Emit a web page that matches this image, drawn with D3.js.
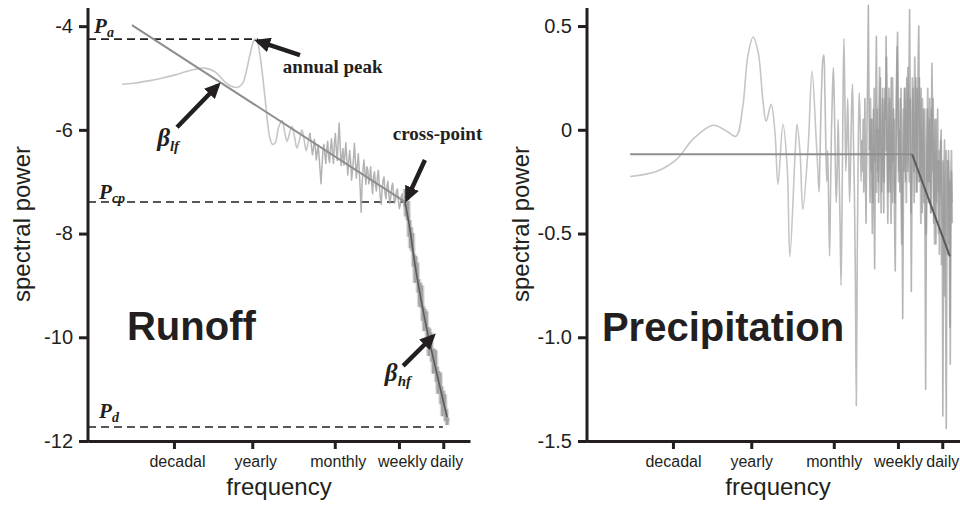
<!DOCTYPE html>
<html><head><meta charset="utf-8">
<script src="https://cdn.jsdelivr.net/npm/d3@7"></script>
<style>
html,body{margin:0;padding:0;background:#fff;}
svg{display:block;}
</style></head>
<body>
<script>
// ---------- DATA ----------
const freqTickPos = [22.5, 43.0, 64.6, 81.4, 93.0];
const freqTickLabels = ["decadal", "yearly", "monthly", "weekly", "daily"];
const runoffTicks = [-12, -10, -8, -6, -4];
const precipTicks = [0.5, 0, -0.5, -1.0, -1.5];
const precipTickLabels = ["0.5", "0", "-0.5", "-1.0", "-1.5"];

// Runoff spectrum, low-frequency smooth part (frequency position, power)
const runoffLowU = [8.9,12,16.2,19.5,22.8,25.5,28.0,30.6,33.2,35.9,37.5,39.3,40.5,41.5,42.4,43.2,43.7,44.3,45.0,45.7,46.3,47.0,47.6,48.3,49.0,49.9,50.8,51.5,52.1,52.8,53.4,54.1,54.7,55.4,56.0,56.6,57.1,57.6,58.1];
const runoffLowP = [-5.12,-5.10,-5.05,-5.00,-4.94,-4.88,-4.83,-4.81,-4.88,-5.08,-5.16,-5.18,-5.10,-4.85,-4.55,-4.32,-4.25,-4.30,-4.55,-4.95,-5.35,-5.85,-6.15,-6.28,-6.25,-5.95,-5.82,-6.05,-6.22,-6.05,-5.93,-6.15,-6.35,-6.18,-6.00,-6.20,-6.40,-6.25,-6.06];
// Runoff spectrum, noisy middle part (starts at 58.25, step 0.25)
const runoffMidStart = 58.25, runoffMidStep = 0.25;
const runoffMidP = [-6.16,-6.32,-6.48,-6.37,-6.18,-6.32,-6.58,-6.44,-6.29,-6.52,
-6.78,-7.04,-6.70,-6.41,-6.28,-6.47,-6.65,-6.36,-6.22,-6.54,
-6.63,-6.34,-6.17,-6.43,-6.65,-6.26,-6.07,-6.38,-6.59,-6.21,
-5.87,-6.28,-6.69,-6.52,-6.36,-6.68,-6.49,-6.25,-6.56,-6.87,
-6.64,-6.40,-6.61,-6.97,-6.78,-6.55,-6.26,-6.62,-6.93,-6.69,
-6.46,-6.77,-7.13,-7.59,-7.05,-6.76,-6.58,-6.84,-7.05,-6.71,
-6.77,-7.04,-6.90,-6.71,-7.02,-7.23,-6.90,-6.81,-7.07,-7.18,
-6.92,-6.78,-7.05,-7.28,-7.44,-7.15,-6.96,-6.91,-7.22,-7.33,
-7.11,-6.99,-7.24,-7.42,-7.31,-7.10,-7.03,-7.25,-7.41,-7.35,
-7.18,-7.14,-7.36,-7.52,-7.45,-7.29,-7.23,-7.38,-7.48,-7.39];
// Runoff spectrum, steep high-frequency part (starts at 83.0, step 0.2)
const runoffHighStart = 83.0, runoffHighStep = 0.2;
const runoffHighP = [-7.14,-7.67,-7.26,-7.74,-7.37,-8.06,-7.74,-8.28,-7.88,-8.34,
-7.99,-8.64,-8.40,-8.95,-8.44,-8.87,-8.56,-9.14,-8.88,-9.41,
-8.95,-9.43,-9.00,-9.68,-9.40,-9.88,-9.45,-9.83,-9.50,-10.13,
-9.80,-10.36,-9.83,-10.29,-9.91,-10.47,-10.24,-10.70,-10.22,-10.68,
-10.25,-10.86,-10.57,-11.09,-10.65,-11.01,-10.68,-11.29,-10.95,-11.52,
-11.03,-11.44,-11.10,-11.62,-11.38,-11.69,-11.55];
// Runoff fitted lines
const runoffFitLowU = [11.5, 83.0];
const runoffFitLowP = [-3.98, -7.39];
const runoffFitHighU = [83.0, 84.3, 85.6, 87.2, 89.0, 91.1, 92.9, 94.0];
const runoffFitHighP = [-7.39, -7.93, -8.60, -9.28, -9.95, -10.63, -11.20, -11.54];
// Runoff reference levels
const levelNames = ["a", "cp", "d"];
const levelValues = [-4.25, -7.39, -11.73];
const levelEnds = [44.5, 82.5, 92.9];

// Precipitation spectrum, smooth low-frequency part
const precipLowU = [11.3,18.3,23.6,27.7,33.0,36.6,39.0,40.8,42.1,43.5,44.8,46.1,46.9,48.2,49.2,50.0,51.3,52.4,53.1,54.5,55.0,55.8,56.5,57.9,58.9,60.0,60.5];
const precipLowP = [-0.225,-0.20,-0.14,-0.046,0.022,-0.007,-0.031,0.114,0.355,0.447,0.374,0.133,0.041,0.123,-0.012,-0.263,0.027,-0.176,-0.611,-0.109,0.027,-0.118,-0.384,-0.08,0.283,-0.047,-0.215];
// Precipitation, noisy middle part (starts 60.75, step 0.25)
const precipMidStart = 60.75, precipMidStep = 0.25;
const precipMidP = [-0.30,-0.12,0.10,0.25,0.34,0.36,0.20,-0.05,-0.25,-0.10,
-0.35,-0.61,-0.30,0.00,0.18,0.30,0.12,-0.15,-0.35,-0.20,
0.05,-0.20,-0.45,-0.75,-0.40,0.10,0.44,0.15,-0.20,-0.05,
0.15,-0.10,-0.35,-0.15,0.10,0.22,-0.05,-0.30,-0.70,-1.33,
-0.60,-0.10,0.18,0.05,-0.25,-0.05];
// Precipitation, dense high-frequency part (starts 72.15, step 0.15)
const precipHighStart = 72.15, precipHighStep = 0.15;
const precipHighP = [-0.20,0.05,-0.30,-0.10,0.15,-0.25,-0.45,-0.15,0.10,0.30,
0.60,0.20,-0.15,-0.35,-0.10,0.05,-0.25,-0.50,-0.20,0.10,
-0.30,-0.67,-0.25,0.15,0.45,0.10,-0.20,0.00,-0.35,-0.15,
0.10,0.25,-0.05,-0.30,-0.10,0.20,-0.15,-0.40,-0.05,0.15,
0.05,0.45,0.10,-0.25,-0.45,-0.10,0.20,-0.05,-0.30,0.05,
0.25,-0.10,-0.35,-0.15,0.10,-0.20,-0.50,-0.68,-0.25,0.05,
0.30,0.47,0.15,-0.20,0.00,-0.30,-0.15,0.20,-0.10,-0.45,
-0.91,-0.40,-0.05,0.20,0.05,-0.25,-0.10,0.25,0.10,-0.20,
-0.05,0.30,0.58,0.15,-0.30,-0.78,-0.35,-0.05,0.20,-0.10,
-0.35,-0.15,0.15,0.25,-0.05,-0.30,0.05,0.35,0.50,0.10,
-0.25,-0.05,0.20,-0.15,-0.40,-0.20,0.10,-0.05,-0.30,-0.55,
-1.25,-0.60,-0.15,0.10,-0.10,-0.35,-0.05,0.15,-0.20,-0.40,
0.05,0.32,0.10,-0.20,-0.45,-0.15,0.05,-0.25,-0.55,-0.20,
-0.05,0.10,-0.30,-0.15,-0.60,-0.35,-0.10,0.00,-0.25,-0.45,
-1.38,-0.70,-0.20,-0.05,-0.40,-0.90,-1.44,-0.65,-0.15,-0.30,
-0.10,-0.55,-0.25,-1.13,-0.50,-0.20,-0.35];
// Precipitation, overlapping second trace in the dense band (starts 74.0, step 0.2)
const precipBandStart = 74.0, precipBandStep = 0.2;
const precipBandP = [-0.10,0.15,-0.20,0.05,-0.35,-0.05,0.20,-0.15,0.00,-0.30,
0.10,-0.25,0.05,0.30,-0.10,-0.40,-0.15,0.15,-0.05,-0.25,
0.20,-0.10,0.35,0.00,-0.30,-0.10,0.15,-0.20,-0.45,-0.05,
0.25,-0.15,0.05,-0.35,-0.10,0.20,0.40,0.05,-0.25,-0.05,
0.15,-0.30,-0.55,-0.15,0.10,-0.20,0.20,0.00,-0.35,0.10,
0.30,-0.05,-0.25,0.15,-0.40,-0.10,0.25,0.05,-0.20,0.35,
0.10,-0.30,0.20,-0.05,-0.25,0.25,0.00,-0.45,-0.15,0.15,
-0.05,-0.35,0.10,-0.20,-0.50,-0.10,0.20,-0.25,0.05,-0.15,
-0.40,0.10,-0.20,0.15,-0.30,-0.55,-0.10,0.05,-0.35,-0.15,
-0.50,-0.10,-0.30,-0.05,-0.65,-0.25,-0.15,-0.45,-0.80,-0.20,
-0.10,-0.40,-0.60,-0.15,-0.30,-0.95,-0.25,-0.10,-0.45];
// Precipitation fitted line
const precipFitU = [11.3, 85.1, 95.0];
const precipFitP = [-0.118, -0.118, -0.61];

// ---------- DRAWING ----------
const W = 960, H = 506;
const INK = "#231f20";
const SANS = "Liberation Sans, Arial, sans-serif";
const SERIF = "Liberation Serif, Times New Roman, serif";
const svg = d3.select("body").append("svg").attr("width", W).attr("height", H);

const defs = svg.append("defs");
defs.append("marker").attr("id", "ah").attr("markerUnits", "userSpaceOnUse")
  .attr("markerWidth", 17).attr("markerHeight", 15).attr("refX", 12).attr("refY", 7.5)
  .attr("orient", "auto")
  .append("path").attr("d", "M0,0 L16,7.5 L0,15 Z").attr("fill", INK);

function pairs(us, ps) { return us.map((u, i) => [u, ps[i]]); }
function series(start, step, ps) { const us = d3.range(ps.length).map(i => start + i * step); return pairs(us, ps); }

function makePanel(x0, yDomain) {
  const x = d3.scaleLinear().domain([0, 100]).range([x0, x0 + 382]);
  const y = d3.scaleLinear().domain(yDomain).range([441, 8]);
  return { x, y, g: svg.append("g") };
}

function drawAxes(p, yTicks, yFmt, labelShift) {
  const ya = p.g.append("g").attr("transform", `translate(${p.x.range()[0]},0)`)
    .call(d3.axisLeft(p.y).tickValues(yTicks).tickFormat(yFmt).tickSize(9).tickSizeOuter(0).tickPadding(6));
  const xa = p.g.append("g").attr("transform", `translate(0,441)`)
    .call(d3.axisBottom(p.x).tickValues(freqTickPos).tickFormat((d, i) => freqTickLabels[i]).tickSize(8).tickSizeOuter(0).tickPadding(7));
  [ya, xa].forEach(a => {
    a.select(".domain").attr("stroke", INK).attr("stroke-width", 3);
    a.selectAll(".tick line").attr("stroke", INK).attr("stroke-width", 3);
    a.selectAll("text").attr("fill", INK).attr("font-family", SANS);
  });
  ya.selectAll("text").attr("font-size", 20);
  xa.selectAll("text").attr("font-size", 16).attr("dx", labelShift);
  ya.select(".domain").attr("d", `M0,${p.y.range()[1]}V442.5`);
  const xr = p.x.range();
  p.g.append("text").attr("x", (xr[0] + xr[1]) / 2).attr("y", 495).attr("text-anchor", "middle")
    .attr("font-family", SANS).attr("font-size", 24).attr("fill", INK).text("frequency");
  p.g.append("text").attr("transform", `translate(${xr[0] - 58},224) rotate(-90)`).attr("text-anchor", "middle")
    .attr("font-family", SANS).attr("font-size", 24).attr("fill", INK).text("spectral power");
}

function line(p, data, curve) {
  return d3.line().x(d => p.x(d[0])).y(d => p.y(d[1])).curve(curve || d3.curveLinear)(data);
}
function path(p, data, curve, stroke, width, opacity, join) {
  return p.g.append("path").attr("d", line(p, data, curve)).attr("fill", "none")
    .attr("stroke", stroke).attr("stroke-width", width).attr("stroke-opacity", opacity == null ? 1 : opacity)
    .attr("stroke-linejoin", join || "round");
}

// ---- Runoff panel ----
const L = makePanel(88, [-12, -3.65]);
levelValues.forEach((v, i) => {
  L.g.append("line").attr("x1", L.x(0)).attr("x2", L.x(levelEnds[i]))
    .attr("y1", L.y(v)).attr("y2", L.y(v))
    .attr("stroke", INK).attr("stroke-width", 1.6).attr("stroke-dasharray", "8,5");
});
const lowLast = [runoffLowU[runoffLowU.length - 1], runoffLowP[runoffLowP.length - 1]];
path(L, pairs(runoffLowU, runoffLowP), d3.curveCatmullRom, "#c6c6c6", 1.6);
path(L, [lowLast].concat(series(runoffMidStart, runoffMidStep, runoffMidP)), d3.curveLinear, "#a6a6a6", 1.5, 0.85);
path(L, series(runoffHighStart, runoffHighStep, runoffHighP), d3.curveLinear, "#b8b8b8", 5, 0.5, "bevel");
path(L, series(runoffHighStart, runoffHighStep, runoffHighP), d3.curveLinear, "#8c8c8c", 2.5, 0.7, "bevel");
path(L, pairs(runoffFitLowU, runoffFitLowP), d3.curveLinear, "#8e8e8e", 2);
path(L, pairs(runoffFitHighU, runoffFitHighP), d3.curveCatmullRom, "#5a5a5a", 1.6);
drawAxes(L, runoffTicks, d => String(d), 3);

const runoffArrows = [
  { from: [55.5, -4.56], to: [44.5, -4.29] },
  { from: [23.3, -5.95], to: [34.0, -5.14] },
  { from: [88.2, -6.58], to: [83.5, -7.33] },
  { from: [82.5, -10.55], to: [90.3, -9.98] }
];
runoffArrows.forEach(a => {
  L.g.append("line").attr("x1", L.x(a.from[0])).attr("y1", L.y(a.from[1]))
    .attr("x2", L.x(a.to[0])).attr("y2", L.y(a.to[1]))
    .attr("stroke", INK).attr("stroke-width", 4.5).attr("marker-end", "url(#ah)");
});
function label(p, u, v, txt, size) {
  p.g.append("text").attr("x", p.x(u)).attr("y", p.y(v)).attr("font-family", SERIF)
    .attr("font-weight", "bold").attr("font-size", size).attr("fill", INK).text(txt);
}
label(L, 51.0, -4.91, "annual peak", 19);
label(L, 79.8, -6.20, "cross-point", 19);
function symbol(p, u, v, main, sub, size, subSize, subDy) {
  const t = p.g.append("text").attr("x", p.x(u)).attr("y", p.y(v)).attr("font-family", SERIF)
    .attr("font-weight", "bold").attr("font-style", "italic").attr("fill", INK);
  t.append("tspan").attr("font-size", size).text(main);
  t.append("tspan").attr("font-size", subSize).attr("dy", subDy).text(sub);
}
const levelLabelU = [1.6, 2.9, 2.9];
const levelLabelV = [-4.13, -7.33, -11.56];
levelNames.forEach((n, i) => symbol(L, levelLabelU[i], levelLabelV[i], "P", n, 21, 14, 4));
symbol(L, 18.1, -6.31, "β", "lf", 25, 15, 5);
symbol(L, 77.7, -10.84, "β", "hf", 25, 15, 5);
L.g.append("text").attr("x", L.x(10.2)).attr("y", L.y(-10.05)).attr("font-family", SANS)
  .attr("font-weight", "bold").attr("font-size", 40).attr("fill", INK).text("Runoff");

// ---- Precipitation panel ----
const R = makePanel(587, [-1.5, 0.587]);
const pLowLast = [precipLowU[precipLowU.length - 1], precipLowP[precipLowP.length - 1]];
const pMidLast = [precipMidStart + precipMidStep * (precipMidP.length - 1), precipMidP[precipMidP.length - 1]];
path(R, pairs(precipLowU, precipLowP), d3.curveCatmullRom, "#c6c6c6", 1.6);
path(R, [pLowLast].concat(series(precipMidStart, precipMidStep, precipMidP)), d3.curveCatmullRom, "#bdbdbd", 1.6);
path(R, [pMidLast].concat(series(precipHighStart, precipHighStep, precipHighP)), d3.curveLinear, "#a8a8a8", 1.6, 0.85);
path(R, series(precipBandStart, precipBandStep, precipBandP), d3.curveLinear, "#8f8f8f", 1.8, 0.6);
path(R, pairs(precipFitU.slice(0, 2), precipFitP.slice(0, 2)), d3.curveLinear, "#8e8e8e", 2);
path(R, pairs(precipFitU.slice(1), precipFitP.slice(1)), d3.curveLinear, "#5a5a5a", 2);
drawAxes(R, precipTicks, (d, i) => precipTickLabels[i], 0);
R.g.append("text").attr("x", R.x(3.9)).attr("y", R.y(-1.017)).attr("font-family", SANS)
  .attr("font-weight", "bold").attr("font-size", 40).attr("fill", INK).text("Precipitation");
</script>
</body></html>
